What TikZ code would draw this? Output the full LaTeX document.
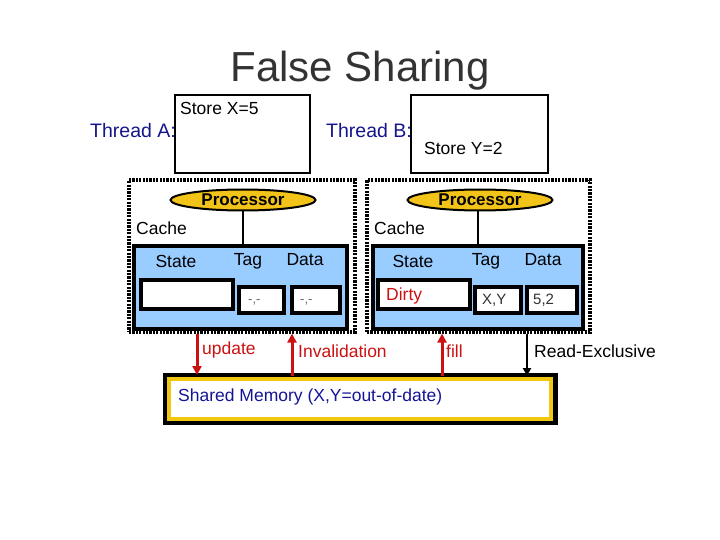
\documentclass[tikz,border=0pt]{standalone}
\usepackage{fontspec}
\setmainfont{Liberation Sans}
\usetikzlibrary{shapes.geometric,arrows.meta}
\definecolor{ttlgray}{HTML}{333333}
\definecolor{thblue}{HTML}{14148C}
\definecolor{procyel}{HTML}{F2C318}
\definecolor{cacheblue}{HTML}{99CCFF}
\definecolor{arrred}{HTML}{CC1111}
\definecolor{memyel}{HTML}{F0C810}
\definecolor{memblue}{HTML}{141496}
\tikzset{
  txt/.style={inner sep=0pt, font=\fontsize{17.5pt}{20pt}\selectfont},
  thbox/.style={draw=black, line width=2.2pt, fill=white, inner sep=0pt},
  outerbox/.style={draw=black, line width=3.2pt, dash pattern=on 2.2pt off 1.2pt},
  proc/.style={ellipse, draw=black, line width=2pt, fill=procyel, minimum width=145pt, minimum height=21pt, inner sep=0pt},
  cachebox/.style={draw=black, line width=3.2pt, fill=cacheblue, inner sep=0pt},
  cell/.style={draw=black, line width=3.2pt, fill=white, inner sep=0pt},
  redarr/.style={draw=arrred, line width=3pt, -{Triangle[length=9pt,width=9pt]}},
  blkarr/.style={draw=black, line width=2.4pt, -{Triangle[length=8pt,width=8pt]}},
}
\begin{document}
\begin{tikzpicture}[x=1pt,y=-1pt]
\useasboundingbox (0,0) rectangle (720,540);
% title
\node[inner sep=0pt, text=ttlgray, font=\fontsize{42pt}{46pt}\selectfont] (title) at (360,71) {False Sharing};
% threads
\node[thbox, minimum width=135pt, minimum height=78pt] (thA) at (242.5,134) {};
\node[thbox, minimum width=137pt, minimum height=78pt] (thB) at (479.5,134) {};
\node[txt, anchor=west] (stX) at (180,108) {Store X=5};
\node[txt, anchor=west] (stY) at (424,148) {Store Y=2};
\node[txt, anchor=east, text=thblue, font=\fontsize{19.5pt}{22pt}\selectfont] (labA) at (176,131) {Thread A:};
\node[txt, anchor=east, text=thblue, font=\fontsize{19.5pt}{22pt}\selectfont] (labB) at (412,131) {Thread B:};
% outer dotted boxes
\node[outerbox, minimum width=226pt, minimum height=152pt, inner sep=0pt] (nodeA) at (242,256) {};
\node[outerbox, minimum width=223pt, minimum height=152pt, inner sep=0pt] (nodeB) at (478.5,256) {};
% cache boxes
\node[cachebox, minimum width=213pt, minimum height=83pt] (cacheA) at (240.5,287.5) {};
\node[cachebox, minimum width=210pt, minimum height=83pt] (cacheB) at (478,287.5) {};
% processors
\node[proc] (procA) at (243,200) {};
\node[txt, font=\bfseries\fontsize{17pt}{20pt}\selectfont] (procAt) at (procA) {Processor};
\node[proc] (procB) at (480,200) {};
\node[txt, font=\bfseries\fontsize{17pt}{20pt}\selectfont] (procBt) at (procB) {Processor};
\draw[line width=2.8pt] (procA.south) -- (procA.south |- cacheA.north);
\draw[line width=2.8pt] (procB.south -| 478,0) -- (478,246);
% cache labels
\node[txt, anchor=west] (cA) at (136,228) {Cache};
\node[txt, anchor=west] (cB) at (374,228) {Cache};
% headers
\node[txt] (hsA) at (176,261) {State};
\node[txt] (htA) at (248,261) {Tag};
\node[txt] (hdA) at (305,260) {Data};
\node[txt] (hsB) at (413,261) {State};
\node[txt] (htB) at (486,261) {Tag};
\node[txt] (hdB) at (543,260) {Data};
% cells
\node[cell, minimum width=92pt, minimum height=29pt] (sA) at (187,294.5) {};
\node[cell, minimum width=45pt, minimum height=26pt] (tA) at (261.5,300) {};
\node[cell, minimum width=48pt, minimum height=26pt] (dA) at (316,300) {};
\node[cell, minimum width=92pt, minimum height=29pt] (sB) at (424,294.5) {};
\node[cell, minimum width=46pt, minimum height=26pt] (tB) at (498,300) {};
\node[cell, minimum width=50pt, minimum height=26pt] (dB) at (552,300) {};
\node[inner sep=0pt, anchor=west, text=black!60, font=\fontsize{13pt}{14pt}\selectfont] (tAv) at (248,302) {-,-};
\node[inner sep=0pt, anchor=west, text=black!60, font=\fontsize{13pt}{14pt}\selectfont] (dAv) at (300,302) {-,-};
\node[txt, anchor=west, text=arrred] (dirty) at (386,296) {Dirty};
\node[inner sep=0pt, anchor=west, text=black!80, font=\fontsize{15pt}{17pt}\selectfont] (tBv) at (482,300) {X,Y};
\node[inner sep=0pt, anchor=west, text=black!80, font=\fontsize{15pt}{17pt}\selectfont] (dBv) at (533,300) {5,2};
% shared memory
\node[draw=black, fill=black, line width=0pt, minimum width=394pt, minimum height=51pt, inner sep=0pt] (memout) at (360,398.5) {};
\node[draw=memyel, fill=white, line width=4pt, minimum width=382pt, minimum height=40pt, inner sep=0pt] (mem) at (360,398.5) {};
\node[txt, anchor=west, text=memblue] (memt) at (178,397) {Shared Memory (X,Y=out-of-date)};
% arrows
\draw[redarr] (nodeA.south -| 197,0) -- (197,375);
\draw[redarr] (292,376) -- (nodeA.south -| 292,0);
\draw[redarr] (442,376) -- (nodeB.south -| 442,0);
\draw[blkarr] (nodeB.south -| 527,0) -- (527,376);
\node[txt, anchor=west, text=arrred] (lu) at (202,350) {update};
\node[txt, anchor=west, text=arrred] (li) at (298,351) {Invalidation};
\node[txt, anchor=west, text=arrred] (lf) at (446,351) {fill};
\node[txt, anchor=west] (lr) at (534,351) {Read-Exclusive};
\end{tikzpicture}
\end{document}
